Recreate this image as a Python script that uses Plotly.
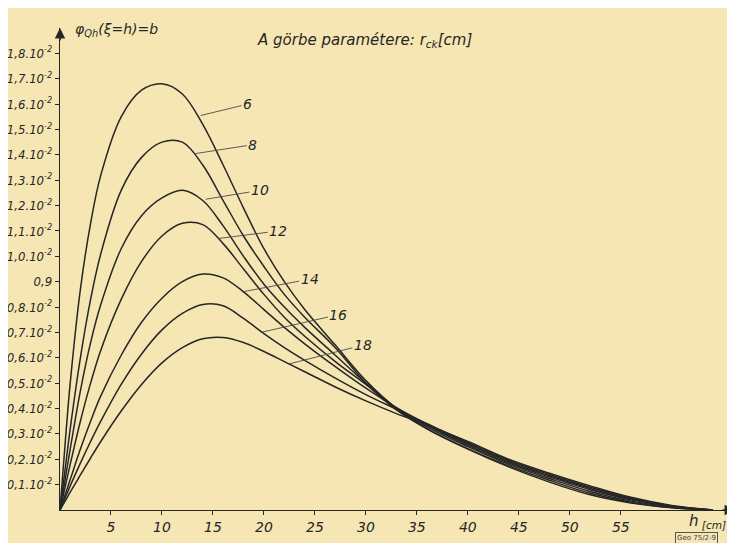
import plotly.graph_objects as go

# h [cm] sample positions (shared by all curves)
h = [0, 0.5, 1, 2, 3, 4, 6, 8, 10, 12, 14, 16, 18, 20, 22, 24, 27, 30, 33, 36, 40, 44, 48, 52, 56, 60, 64]

# curve parameter r_ck [cm]
params = ["6", "8", "10", "12", "14", "16", "18"]

# values in units of 1e-3 (0.1·10^-2)
b6 = [0, 2.6, 5.0, 8.7, 11.3, 13.2, 15.5, 16.55, 16.8, 16.4, 15.2, 13.6, 11.9, 10.3, 9.0, 7.9, 6.5, 5.1, 4.0, 3.2, 2.4, 1.7, 1.1, 0.6, 0.28, 0.09, 0]
b8 = [0, 1.6, 3.2, 6.0, 8.3, 10.1, 12.6, 13.9, 14.5, 14.5, 13.6, 12.2, 10.8, 9.6, 8.5, 7.6, 6.4, 5.0, 3.95, 3.2, 2.42, 1.74, 1.17, 0.66, 0.31, 0.1, 0]
b10 = [0, 1.2, 2.4, 4.7, 6.6, 8.1, 10.3, 11.6, 12.3, 12.6, 12.2, 11.2, 10.0, 8.9, 8.0, 7.2, 6.1, 5.0, 4.0, 3.27, 2.5, 1.8, 1.24, 0.73, 0.35, 0.12, 0]
b12 = [0, 0.9, 1.8, 3.5, 5.0, 6.3, 8.3, 9.8, 10.8, 11.3, 11.25, 10.5, 9.5, 8.5, 7.6, 6.85, 5.85, 4.95, 4.02, 3.33, 2.55, 1.85, 1.3, 0.8, 0.4, 0.14, 0]
b14 = [0, 0.6, 1.2, 2.4, 3.5, 4.5, 6.1, 7.4, 8.35, 9.0, 9.3, 9.15, 8.6, 7.9, 7.2, 6.55, 5.65, 4.8, 4.03, 3.38, 2.6, 1.9, 1.35, 0.85, 0.43, 0.15, 0]
b16 = [0, 0.47, 0.95, 1.85, 2.7, 3.5, 4.95, 6.15, 7.1, 7.75, 8.1, 8.05, 7.55, 6.95, 6.4, 5.9, 5.2, 4.55, 3.97, 3.4, 2.65, 1.95, 1.4, 0.9, 0.46, 0.16, 0]
b18 = [0, 0.35, 0.7, 1.38, 2.05, 2.7, 3.9, 4.95, 5.8, 6.4, 6.75, 6.8, 6.6, 6.25, 5.85, 5.45, 4.85, 4.3, 3.8, 3.35, 2.7, 2.0, 1.45, 0.95, 0.5, 0.18, 0]
series = [b6, b8, b10, b12, b14, b16, b18]

# curve-label leader lines: point on curve -> label position
lab_from_h = [13.8, 13.3, 14.3, 15.5, 17.9, 19.7, 22.4]
lab_from_v = [15.55, 14.05, 12.25, 10.7, 8.6, 7.0, 5.75]
lab_h = [18.4, 18.9, 19.6, 21.4, 24.5, 27.3, 29.7]
lab_v = [16.0, 14.4, 12.6, 11.0, 9.1, 7.7, 6.5]

x_ticks = [5, 10, 15, 20, 25, 30, 35, 40, 45, 50, 55]
y_ticks = list(range(1, 19))
y_ticktext = ["0,1.10<sup>-2</sup>", "0,2.10<sup>-2</sup>", "0,3.10<sup>-2</sup>", "0,4.10<sup>-2</sup>",
              "0,5.10<sup>-2</sup>", "0,6.10<sup>-2</sup>", "0,7.10<sup>-2</sup>", "0,8.10<sup>-2</sup>",
              "0,9", "1,0.10<sup>-2</sup>", "1,1.10<sup>-2</sup>", "1,2.10<sup>-2</sup>",
              "1,3.10<sup>-2</sup>", "1,4.10<sup>-2</sup>", "1,5.10<sup>-2</sup>", "1,6.10<sup>-2</sup>",
              "1,7.10<sup>-2</sup>", "1,8.10<sup>-2</sup>"]

INK = "#262626"
BG = "#F6E6B3"
FONT = "DejaVu Sans"
NARROW = "Liberation Sans Narrow, DejaVu Sans Condensed, DejaVu Sans"

fig = go.Figure()
for p, vals in zip(params, series):
    fig.add_trace(go.Scatter(x=h, y=vals, mode="lines", name=p,
                             line=dict(color=INK, width=1.5, shape="spline", smoothing=1.0),
                             hoverinfo="skip", showlegend=False))

for p, fh, fv, lh, lv in zip(params, lab_from_h, lab_from_v, lab_h, lab_v):
    fig.add_annotation(x=fh, y=fv, ax=lh, ay=lv, axref="x", ayref="y",
                       text=p, showarrow=True, arrowhead=0, arrowwidth=0.9,
                       arrowcolor="#4a4a4a", standoff=0, startstandoff=0,
                       font=dict(family=FONT, size=14, color=INK, style="italic"))

# axis arrows
fig.add_annotation(x=0, y=19.0, xref="x", yref="y", ax=0, ay=14, text="", showarrow=True,
                   arrowhead=2, arrowsize=1.3, arrowwidth=1.6, arrowcolor=INK)
fig.add_annotation(x=66.2, y=0, xref="x", yref="y", ax=-14, ay=0, text="", showarrow=True,
                   arrowhead=2, arrowsize=1.3, arrowwidth=1.6, arrowcolor=INK)

# texts
fig.add_annotation(x=0.019, y=0.996, xref="paper", yref="paper", xanchor="left", yanchor="middle",
                   text="φ<sub>Qh</sub>(ξ=h)=b", showarrow=False,
                   font=dict(family=FONT, size=14, color=INK, style="italic"))
fig.add_annotation(x=0.289, y=0.975, xref="paper", yref="paper", xanchor="left", yanchor="middle",
                   text="A görbe paramétere: r<sub>ck</sub>[cm]", showarrow=False,
                   font=dict(family=FONT, size=15, color=INK, style="italic"))
fig.add_annotation(x=0.99, y=-0.024, xref="paper", yref="paper", xanchor="right", yanchor="middle",
                   text="h<sub> [cm]</sub>", showarrow=False,
                   font=dict(family=FONT, size=15, color=INK, style="italic"))
fig.add_annotation(x=0.975, y=-0.058, xref="paper", yref="paper", xanchor="right", yanchor="middle",
                   text="Geo 75/2-9", showarrow=False, bordercolor="#555", borderwidth=1, borderpad=1,
                   font=dict(family=FONT, size=7, color="#444"))

fig.update_layout(
    width=735, height=543,
    margin=dict(l=52, r=8, t=20, b=41),
    paper_bgcolor=BG, plot_bgcolor=BG,
    xaxis=dict(range=[0, 66.2], tickvals=x_ticks, ticktext=[str(t) for t in x_ticks],
               automargin=False,
               showgrid=False, zeroline=False, showline=True, linecolor=INK, linewidth=1.4,
               ticks="outside", ticklen=4, tickcolor=INK, tickwidth=1.2,
               tickfont=dict(family=FONT, size=14, color=INK, style="italic")),
    yaxis=dict(range=[0, 19.0], tickvals=y_ticks, ticktext=y_ticktext,
               automargin=False,
               showgrid=False, zeroline=False, showline=True, linecolor=INK, linewidth=1.4,
               ticks="outside", ticklen=4, tickcolor=INK, tickwidth=1.2,
               tickfont=dict(family=NARROW, size=13, color=INK, style="italic")),
)

fig.write_html("out.html")
